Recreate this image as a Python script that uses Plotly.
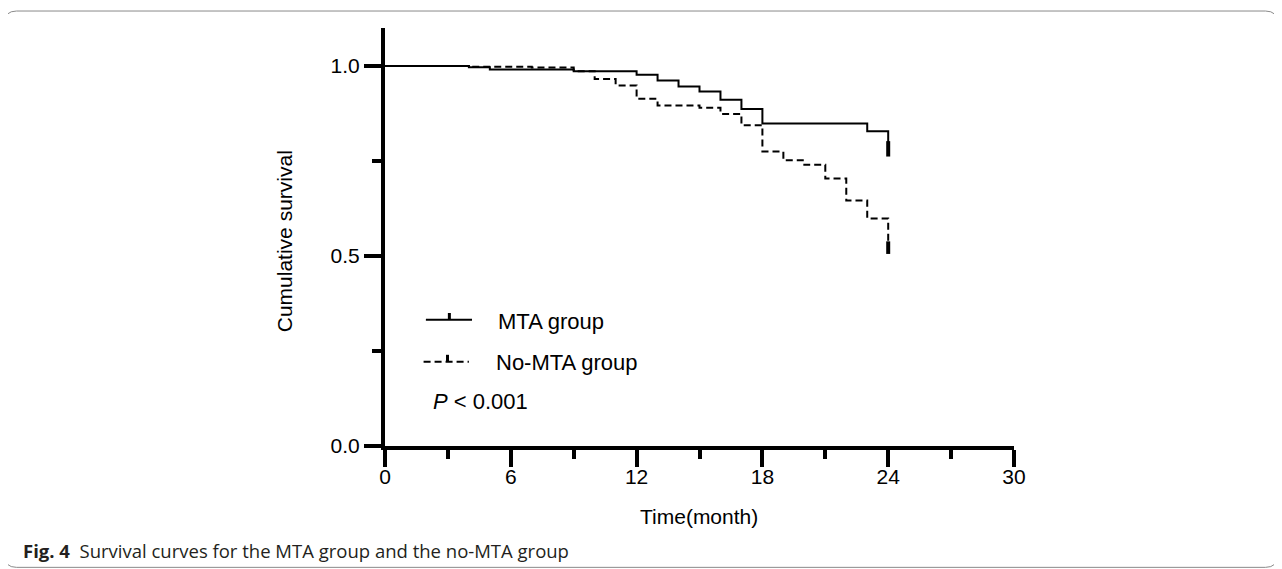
import plotly.graph_objects as go

# ---- data ----
mta_time = [0, 4, 5, 9, 12, 13, 14, 15, 16, 17, 18, 23, 24]
mta_surv = [1.0, 0.997, 0.991, 0.986, 0.977, 0.962, 0.946, 0.933, 0.911, 0.887, 0.849, 0.828, 0.79]
nomta_time = [0, 4, 7, 9, 10, 11, 12, 13, 15, 16, 17, 18, 19, 20, 21, 22, 23, 24]
nomta_surv = [1.0, 0.998, 0.996, 0.986, 0.966, 0.949, 0.914, 0.896, 0.890, 0.874, 0.844,
              0.775, 0.752, 0.740, 0.704, 0.646, 0.599, 0.53]
mta_censor_time = [24]
mta_censor_surv = [0.782]
nomta_censor_time = [24]
nomta_censor_surv = [0.522]

series_names = ["MTA group", "No-MTA group"]
p_text = "<i>P</i> < 0.001"
x_title = "Time(month)"
y_title = "Cumulative survival"
caption_bold = "Fig. 4"
caption_text = "Survival curves for the MTA group and the no-MTA group"

# ---- layout geometry (pixels, in page coordinates; page body has an 8px margin) ----
OFF = 8
FW, FH = 1282 - OFF, 569 - OFF
L, R, T, B = 385 - OFF, 1014 - OFF, 27.5 - OFF, 446 - OFF
W, H = R - L, B - T


def px(p):
    return (p - OFF - L) / W


def py(p):
    return (B - (p - OFF)) / H


AX_FONT = "Liberation Sans, Arial, sans-serif"

fig = go.Figure()
fig.add_trace(go.Scatter(x=mta_time, y=mta_surv, mode="lines", line_shape="hv",
                         line=dict(color="black", width=2), name=series_names[0],
                         showlegend=False))
fig.add_trace(go.Scatter(x=nomta_time, y=nomta_surv, mode="lines", line_shape="hv",
                         line=dict(color="black", width=2, dash="7px,4px"),
                         name=series_names[1], showlegend=False))
fig.add_trace(go.Scatter(x=mta_censor_time, y=mta_censor_surv, mode="markers",
                         marker=dict(symbol="line-ns", size=11, color="black",
                                     line=dict(color="black", width=4)),
                         showlegend=False))
fig.add_trace(go.Scatter(x=nomta_censor_time, y=nomta_censor_surv, mode="markers",
                         marker=dict(symbol="line-ns", size=9, color="black",
                                     line=dict(color="black", width=4)),
                         showlegend=False))

axis_common = dict(showline=True, linewidth=4, linecolor="black", ticks="outside",
                   ticklen=17, tickwidth=4, tickcolor="black", showgrid=False,
                   zeroline=False, tickfont=dict(family=AX_FONT, size=21, color="black"))

fig.update_xaxes(range=[0, 30], tickmode="linear", tick0=0, dtick=6,
                 ticklabelstandoff=-8,
                 minor=dict(dtick=3, ticklen=9, tickwidth=4, ticks="outside",
                            tickcolor="black", showgrid=False),
                 **axis_common)
fig.update_yaxes(range=[0, 1.1], tickmode="linear", tick0=0, dtick=0.5, tickformat=".1f",
                 minor=dict(dtick=0.25, ticklen=9, tickwidth=4, ticks="outside",
                            tickcolor="black", showgrid=False),
                 **axis_common)

shapes = []
# legend samples (data coordinates)
shapes.append(dict(type="line", xref="x", yref="y", x0=1.95, x1=4.15, y0=0.332, y1=0.332,
                   line=dict(color="black", width=2)))
shapes.append(dict(type="line", xref="x", yref="y", x0=3.07, x1=3.07, y0=0.332, y1=0.350,
                   line=dict(color="black", width=3)))
shapes.append(dict(type="line", xref="x", yref="y", x0=1.84, x1=4.0, y0=0.222, y1=0.222,
                   line=dict(color="black", width=2, dash="7px,4px")))
shapes.append(dict(type="line", xref="x", yref="y", x0=2.98, x1=2.98, y0=0.222, y1=0.240,
                   line=dict(color="black", width=3)))

# rounded outer frame
l0, r0, t0, b0, rad = 4.5, 1277.5, 10.5, 567.5, 12
path = (f"M {px(l0 + rad)},{py(t0)} L {px(r0 - rad)},{py(t0)} "
        f"Q {px(r0)},{py(t0)} {px(r0)},{py(t0 + rad)} "
        f"L {px(r0)},{py(b0 - rad)} Q {px(r0)},{py(b0)} {px(r0 - rad)},{py(b0)} "
        f"L {px(l0 + rad)},{py(b0)} Q {px(l0)},{py(b0)} {px(l0)},{py(b0 - rad)} "
        f"L {px(l0)},{py(t0 + rad)} Q {px(l0)},{py(t0)} {px(l0 + rad)},{py(t0)} Z")
shapes.append(dict(type="path", xref="paper", yref="paper", path=path,
                   line=dict(color="#8a8a8a", width=1)))

annotations = [
    dict(x=5.3, y=0.327, xref="x", yref="y", text=series_names[0], showarrow=False,
         xanchor="left", yanchor="middle", font=dict(family=AX_FONT, size=22, color="black")),
    dict(x=5.18, y=0.221, xref="x", yref="y", text=series_names[1], showarrow=False,
         xanchor="left", yanchor="middle", font=dict(family=AX_FONT, size=22, color="black")),
    dict(x=2.2, y=0.116, xref="x", yref="y", text=p_text, showarrow=False,
         xanchor="left", yanchor="middle", font=dict(family=AX_FONT, size=22, color="black")),
    dict(x=px(699), y=py(517), xref="paper", yref="paper", text=x_title, showarrow=False,
         xanchor="center", yanchor="middle", font=dict(family=AX_FONT, size=21, color="black")),
    dict(x=px(284), y=py(241), xref="paper", yref="paper", text=y_title, showarrow=False,
         textangle=-90, xanchor="center", yanchor="middle",
         font=dict(family=AX_FONT, size=21, color="black")),
    dict(x=px(21), y=py(551), xref="paper", yref="paper",
         text=f"<b>{caption_bold}</b>\u00a0\u00a0{caption_text}", showarrow=False,
         xanchor="left", yanchor="middle",
         font=dict(family="Open Sans, Noto Sans, sans-serif", size=18.5, color="#231f20")),
]

fig.update_layout(width=FW, height=FH, margin=dict(l=L, r=FW - R, t=T, b=FH - B),
                  paper_bgcolor="white", plot_bgcolor="white", shapes=shapes,
                  annotations=annotations, showlegend=False)

fig.write_html("out.html")
